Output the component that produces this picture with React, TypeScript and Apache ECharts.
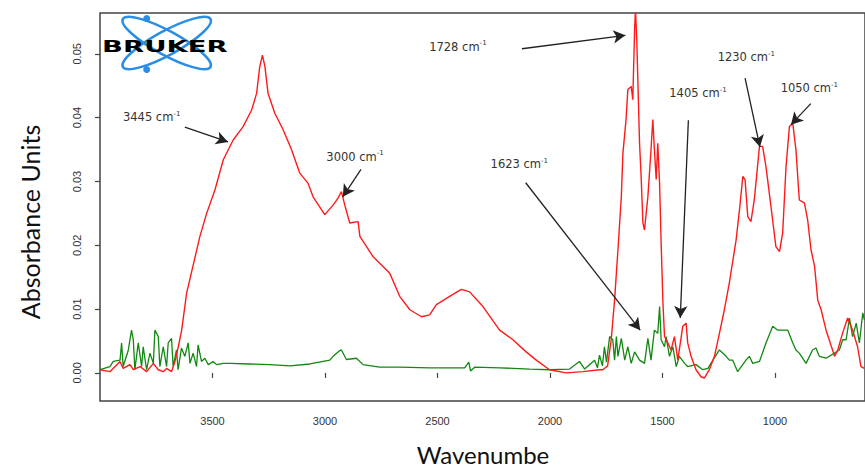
import React, { useEffect, useRef } from "react";
import * as echarts from "echarts";

// ---- data ----
const redWavenumber = [4000,3956,3911,3897,3867,3852,3822,3793,3763,3741,3719,3704,3682,3667,3652,3637,3615,3556,3526,3489,3452,3408,3364,3326,3304,3290,3278,3267,3253,3223,3186,3149,3112,3075,3053,3001,2964,2942,2927,2912,2890,2853,2845,2786,2712,2668,2623,2571,2535,2505,2446,2394,2357,2298,2224,2165,2106,2061,2002,1928,1854,1780,1765,1744,1728,1713,1698,1683,1676,1662,1654,1639,1632,1624,1620,1614,1602,1595,1587,1580,1565,1551,1543,1536,1528,1521,1513,1506,1498,1491,1476,1462,1447,1432,1410,1395,1388,1373,1351,1329,1314,1292,1269,1247,1225,1203,1173,1158,1143,1133,1121,1107,1092,1069,1055,1040,1018,996,980,966,951,936,921,907,892,869,855,840,824,810,795,773,749,735,721,700,677,655,633,618,603];
const redAbsorbance = [0.0005,0.0002,0.0018,0.0007,0.0013,0.0005,0.0010,0.0002,0.0015,0.0005,0.0002,0.0007,0.0002,0.0018,0.0041,0.0067,0.0125,0.0214,0.0250,0.0287,0.0334,0.0365,0.0386,0.0412,0.0438,0.0480,0.0498,0.0480,0.0438,0.0407,0.0381,0.0350,0.0313,0.0297,0.0276,0.0248,0.0263,0.0274,0.0284,0.0263,0.0235,0.0237,0.0214,0.0182,0.0156,0.0120,0.0099,0.0088,0.0091,0.0107,0.0120,0.0131,0.0127,0.0104,0.0067,0.0052,0.0033,0.0020,0.0005,0.0000,0.0002,0.0005,0.0005,0.0011,0.0052,0.0114,0.0193,0.0276,0.0344,0.0397,0.0444,0.0449,0.0428,0.0538,0.0570,0.0517,0.0360,0.0308,0.0235,0.0224,0.0276,0.0350,0.0397,0.0350,0.0303,0.0360,0.0297,0.0203,0.0109,0.0057,0.0047,0.0036,0.0057,0.0020,0.0073,0.0078,0.0047,0.0026,0.0005,-0.0006,-0.0008,0.0005,0.0026,0.0062,0.0099,0.0141,0.0208,0.0255,0.0308,0.0303,0.0245,0.0237,0.0271,0.0355,0.0355,0.0323,0.0261,0.0198,0.0190,0.0219,0.0323,0.0386,0.0391,0.0350,0.0271,0.0266,0.0240,0.0193,0.0167,0.0114,0.0099,0.0067,0.0041,0.0026,0.0036,0.0062,0.0086,0.0067,0.0041,0.0010,0.0007];

const greenWavenumber = [4000,3956,3941,3911,3904,3897,3874,3860,3852,3845,3830,3815,3808,3793,3778,3763,3756,3741,3734,3719,3704,3697,3682,3675,3660,3653,3638,3623,3608,3600,3586,3571,3564,3549,3534,3519,3497,3482,3452,3423,3334,3245,3156,3067,2979,2964,2934,2927,2905,2860,2831,2757,2668,2535,2379,2361,2353,2335,2224,2091,2002,1913,1869,1846,1802,1789,1780,1767,1758,1749,1735,1721,1713,1705,1698,1683,1668,1654,1639,1624,1602,1580,1565,1551,1536,1521,1513,1506,1491,1484,1469,1454,1439,1425,1402,1388,1351,1321,1298,1276,1247,1217,1203,1188,1166,1129,1114,1099,1069,1040,1010,988,973,943,921,907,892,862,833,818,803,773,736,714,699,684,669,655,639,625,610,603];
const greenAbsorbance = [0.0005,0.0010,0.0018,0.0020,0.0047,0.0010,0.0036,0.0067,0.0052,0.0005,0.0047,0.0010,0.0041,0.0005,0.0031,0.0015,0.0067,0.0057,0.0010,0.0041,0.0010,0.0047,0.0054,0.0010,0.0036,0.0005,0.0039,0.0026,0.0047,0.0015,0.0031,0.0010,0.0044,0.0018,0.0023,0.0013,0.0018,0.0013,0.0015,0.0015,0.0014,0.0013,0.0011,0.0014,0.0020,0.0026,0.0035,0.0036,0.0021,0.0023,0.0013,0.0009,0.0009,0.0008,0.0008,0.0017,0.0003,0.0009,0.0008,0.0006,0.0005,0.0006,0.0018,0.0006,0.0020,0.0008,0.0028,0.0011,0.0041,0.0017,0.0057,0.0052,0.0020,0.0057,0.0026,0.0054,0.0020,0.0041,0.0015,0.0033,0.0020,0.0015,0.0054,0.0020,0.0067,0.0062,0.0104,0.0052,0.0041,0.0057,0.0026,0.0041,0.0010,0.0026,0.0015,0.0010,0.0013,0.0005,0.0007,0.0020,0.0036,0.0026,0.0020,0.0020,0.0002,0.0020,0.0026,0.0015,0.0018,0.0047,0.0073,0.0067,0.0067,0.0067,0.0047,0.0036,0.0031,0.0015,0.0036,0.0039,0.0026,0.0023,0.0031,0.0036,0.0052,0.0052,0.0086,0.0057,0.0078,0.0047,0.0094,0.0083];

const xTickValues = [3500, 3000, 2500, 2000, 1500, 1000];
const yTickValues = [0, 0.01, 0.02, 0.03, 0.04, 0.05];

// annotations (label text, label anchor, arrow start, arrow tip) in data units
const annotationLabels = ["3445", "3000", "1623", "1728", "1405", "1230", "1050"];
const labelWavenumber = [3898, 2994, 2264, 2537, 1470, 1255, 975];
const labelAbsorbance = [0.0401, 0.0339, 0.0327, 0.0511, 0.0438, 0.0495, 0.0446];
const arrowStartWavenumber = [3623, 2840, 2108, 2125, 1385, 1133, 841];
const arrowStartAbsorbance = [0.0385, 0.0319, 0.0298, 0.0508, 0.0396, 0.0462, 0.0422];
const arrowTipWavenumber = [3431, 2921, 1599, 1665, 1421, 1067, 929];
const arrowTipAbsorbance = [0.0362, 0.0276, 0.0067, 0.0529, 0.0086, 0.0354, 0.0389];

export default function App() {
  const ref = useRef<HTMLDivElement>(null);

  useEffect(() => {
    if (!ref.current) return;
    const chart = echarts.init(ref.current, null, { renderer: "svg" });

    const redData = redWavenumber.map((w, i) => [w, redAbsorbance[i]]);
    const greenData = greenWavenumber.map((w, i) => [w, greenAbsorbance[i]]);

    const arrows = arrowStartWavenumber.map((w, i) => [
      { coord: [w, arrowStartAbsorbance[i]] },
      { coord: [arrowTipWavenumber[i], arrowTipAbsorbance[i]] },
    ]);
    const labels = annotationLabels.map((t, i) => ({
      coord: [labelWavenumber[i], labelAbsorbance[i]],
      value: t,
    }));

    const axisColor = "#444";

    chart.setOption({
      animation: false,
      backgroundColor: "#fff",
      grid: {
        left: 100,
        top: 13,
        width: 767,
        height: 388,
        show: true,
        borderColor: axisColor,
        borderWidth: 1.5,
        backgroundColor: "transparent",
      },
      xAxis: {
        type: "value",
        min: 600,
        max: 4000,
        inverse: true,
        splitLine: { show: false },
        axisLine: { show: false },
        axisTick: {
          show: true,
          length: 5,
          customValues: xTickValues,
          lineStyle: { color: axisColor, width: 1.2 },
        },
        axisLabel: {
          customValues: xTickValues,
          margin: 14,
          color: "#333",
          fontSize: 11,
          fontFamily: "Liberation Sans",
          formatter: (v: number) => String(v),
        },
      },
      yAxis: {
        type: "value",
        min: -0.0044,
        max: 0.0564,
        splitLine: { show: false },
        axisLine: { show: false },
        axisTick: {
          show: true,
          length: 5,
          customValues: yTickValues,
          lineStyle: { color: axisColor, width: 1.2 },
        },
        axisLabel: {
          customValues: yTickValues,
          rotate: 90,
          margin: 18,
          color: "#333",
          fontSize: 11,
          fontFamily: "Liberation Sans",
          formatter: (v: number) => v.toFixed(2),
        },
      },
      series: [
        {
          type: "line",
          data: greenData,
          symbol: "none",
          lineStyle: { color: "#118811", width: 1.3 },
          z: 2,
        },
        {
          type: "line",
          data: redData,
          symbol: "none",
          lineStyle: { color: "#ff1a1a", width: 1.4 },
          z: 3,
          markLine: {
            silent: true,
            symbol: ["none", "arrow"],
            symbolSize: [10, 12],
            label: { show: false },
            lineStyle: { color: "#222", width: 1.3, type: "solid" },
            emphasis: { disabled: true },
            data: arrows,
          },
          markPoint: {
            silent: true,
            symbol: "circle",
            symbolSize: 0,
            itemStyle: { color: "transparent" },
            label: {
              show: true,
              position: "right",
              distance: 0,
              formatter: (p: any) => `{a|${p.value} cm}{s|-1}`,
              rich: {
                a: { fontSize: 11.5, color: "#333", fontFamily: "DejaVu Sans" },
                s: { fontSize: 7, color: "#333", fontFamily: "DejaVu Sans", padding: [0, 0, 7, 0] },
              },
            },
            data: labels,
          },
        },
      ],
      graphic: [
        {
          type: "ellipse",
          x: 166.7,
          y: 43,
          rotation: 0.5,
          shape: { cx: 0, cy: 0, rx: 50, ry: 12 },
          style: { fill: "none", stroke: "#2a8de6", lineWidth: 2.5 },
          z: 10,
        },
        {
          type: "ellipse",
          x: 166.7,
          y: 43,
          rotation: -0.5,
          shape: { cx: 0, cy: 0, rx: 50, ry: 12 },
          style: { fill: "none", stroke: "#2a8de6", lineWidth: 2.5 },
          z: 10,
        },
        { type: "circle", shape: { cx: 146.7, cy: 18.5, r: 3.5 }, style: { fill: "#2a8de6" }, z: 11 },
        { type: "circle", shape: { cx: 146.7, cy: 69.5, r: 3.5 }, style: { fill: "#2a8de6" }, z: 11 },
        {
          type: "text",
          x: 102,
          y: 46,
          scaleX: 1.72,
          z: 12,
          style: {
            text: "BRUKER",
            font: '900 16px "DejaVu Sans"',
            fill: "#000",
            textAlign: "left",
            textVerticalAlign: "middle",
            align: "left",
            verticalAlign: "middle",
          },
        },
        {
          type: "text",
          x: 30,
          y: 222,
          rotation: Math.PI / 2,
          style: {
            text: "Absorbance Units",
            font: "25px Lato",
            fill: "#111",
            textAlign: "center",
            textVerticalAlign: "middle",
            align: "center",
            verticalAlign: "middle",
          },
        },
        {
          type: "text",
          x: 483,
          y: 454,
          style: {
            text: "Wavenumbe",
            font: "24px Lato",
            fill: "#111",
            textAlign: "center",
            textVerticalAlign: "middle",
            align: "center",
            verticalAlign: "middle",
          },
        },
      ],
    });

    return () => chart.dispose();
  }, []);

  return (
    <div
      ref={ref}
      style={{ position: "fixed", left: 0, top: 0, width: 865, height: 470, background: "#fff" }}
    />
  );
}
